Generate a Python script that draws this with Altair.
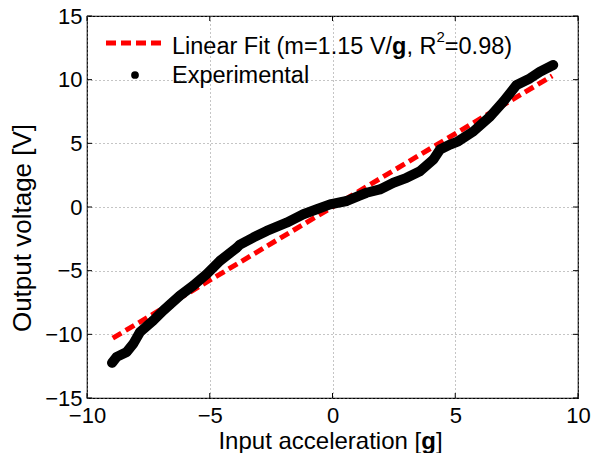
import altair as alt
import pandas as pd

# ---------------- data ----------------
exp_x = [-8.98, -8.79, -8.38, -8.11, -7.84, -7.30, -6.89, -6.62, -6.21, -5.67,
         -5.12, -4.58, -3.90, -3.77, -3.23, -2.68, -1.87, -1.19, -0.64, -0.10,
         0.58, 1.05, 1.39, 1.93, 2.48, 3.02, 3.56, 4.11, 4.38, 4.79,
         5.12, 5.74, 6.42, 6.96, 7.50, 8.04, 8.45, 8.99]
exp_y = [-12.24, -11.77, -11.38, -10.73, -9.82, -8.91, -8.13, -7.66, -6.95, -6.17,
         -5.26, -4.22, -3.20, -2.95, -2.40, -1.88, -1.23, -0.57, -0.18, 0.21,
         0.47, 0.86, 1.12, 1.38, 1.90, 2.29, 2.81, 3.73, 4.51, 4.90,
         5.16, 5.94, 7.11, 8.28, 9.59, 10.10, 10.62, 11.15]
fit_x = [-8.95, 8.95]
fit_y = [-10.3, 10.3]
x_ticks = [-10, -5, 0, 5, 10]
y_ticks = [-15, -10, -5, 0, 5, 10, 15]

legend_fit = ["Linear Fit (m=1.15 V/", "g", ", R", "2", "=0.98)"]
legend_exp = "Experimental"
x_title = ["Input acceleration [", "g", "]"]
y_title = "Output voltage [V]"

FONT = "Liberation Sans"
FS = 23.5
W, H = 491, 382

# Arial/Helvetica advance widths (em) for layout of multi-style text
CW = {'L': .556, 'i': .222, 'n': .556, 'e': .556, 'a': .556, 'r': .333, ' ': .278,
      'F': .611, 't': .278, '(': .333, 'm': .833, '=': .584, '1': .556, '.': .278,
      '5': .556, 'V': .667, '/': .278, ',': .278, 'R': .722, '0': .556, '9': .556,
      '8': .556, ')': .333, 'I': .278, 'p': .556, 'u': .556, 'c': .5, 'l': .222,
      'o': .556, '[': .278, ']': .278, '2': .556, 'g': .611}


def tw(s, size):
    return sum(CW.get(ch, .556) for ch in s) * size


exp_df = pd.DataFrame({"x": exp_x, "y": exp_y})
fit_df = pd.DataFrame({"x": fit_x, "y": fit_y})

xs = alt.Scale(domain=[-10, 10], nice=False, zero=False)
ys = alt.Scale(domain=[-15, 15], nice=False, zero=False)

base_axis = dict(grid=True, gridDash=[1, 3], gridColor="#8a8a8a", gridWidth=1,
                 ticks=False, domain=False, labelFont=FONT, labelFontSize=22,
                 labelColor="black", title=None, labelFlush=False,
                 labelOverlap=False, labelBound=False)

fit_line = alt.Chart(fit_df).mark_line(
    color="#ff0000", strokeWidth=5, strokeDash=[10, 5]
).encode(
    x=alt.X("x:Q", scale=xs, axis=alt.Axis(values=x_ticks, labelPadding=7, **base_axis)),
    y=alt.Y("y:Q", scale=ys, axis=alt.Axis(values=y_ticks, labelPadding=5, **base_axis)),
)

exp_line = alt.Chart(exp_df).mark_line(
    color="black", strokeWidth=10, strokeCap="round", strokeJoin="round"
).encode(x=alt.X("x:Q", scale=xs), y=alt.Y("y:Q", scale=ys))

exp_pts = alt.Chart(exp_df).mark_circle(color="black", opacity=1, size=80).encode(
    x=alt.X("x:Q", scale=xs), y=alt.Y("y:Q", scale=ys))

# inward tick marks (MATLAB style)
xt_df = pd.DataFrame({"v": x_ticks})
yt_df = pd.DataFrame({"v": y_ticks})
xt_bot = alt.Chart(xt_df).mark_rule(color="black", strokeWidth=1).encode(
    x=alt.X("v:Q", scale=xs), y=alt.value(H), y2=alt.value(H - 5))
xt_top = alt.Chart(xt_df).mark_rule(color="black", strokeWidth=1).encode(
    x=alt.X("v:Q", scale=xs), y=alt.value(0), y2=alt.value(5))
yt_left = alt.Chart(yt_df).mark_rule(color="black", strokeWidth=1).encode(
    y=alt.Y("v:Q", scale=ys), x=alt.value(0), x2=alt.value(5))
yt_right = alt.Chart(yt_df).mark_rule(color="black", strokeWidth=1).encode(
    y=alt.Y("v:Q", scale=ys), x=alt.value(W), x2=alt.value(W - 5))


def txt(s, x, y, size=FS, weight="normal", align="left", angle=0, baseline="alphabetic"):
    return alt.Chart(pd.DataFrame({"t": [s]})).mark_text(
        font=FONT, fontSize=size, fontWeight=weight, color="black",
        align=align, baseline=baseline, angle=angle
    ).encode(x=alt.value(x), y=alt.value(y), text="t:N")


layers = [fit_line, exp_line, exp_pts, xt_bot, xt_top, yt_left, yt_right]

# legend
leg_sample = alt.Chart(pd.DataFrame({"a": [0]})).mark_rule(
    color="#ff0000", strokeWidth=5, strokeDash=[10, 5]
).encode(x=alt.value(19), x2=alt.value(75), y=alt.value(27))
leg_dot = alt.Chart(pd.DataFrame({"a": [0]})).mark_circle(
    color="black", opacity=1, size=60
).encode(x=alt.value(48), y=alt.value(59))
layers += [leg_sample, leg_dot]

lx = 85
styles = [("normal", FS, 38), ("bold", FS, 38), ("normal", FS, 38), ("normal", 15, 26), ("normal", FS, 38)]
for s, (wgt, sz, by) in zip(legend_fit, styles):
    layers.append(txt(s, lx, by, size=sz, weight=wgt))
    lx += tw(s, sz)
layers.append(txt(legend_exp, 85, 67))

# x title (with bold g)
XFS = 24
total = sum(tw(s, XFS) for s in x_title)
tx = W / 2 - 2 - total / 2
for s, wgt in zip(x_title, ["normal", "bold", "normal"]):
    layers.append(txt(s, tx, H + 51, size=XFS, weight=wgt))
    tx += tw(s, XFS)

# y title
layers.append(txt(y_title, -64, 212, size=26, angle=270, align="center", baseline="middle"))

chart = alt.layer(*layers).properties(
    width=W, height=H,
    autosize=alt.AutoSizeParams(type="none"),
    padding={"left": 79, "top": 8, "right": 15, "bottom": 55},
).configure_view(stroke="black", strokeWidth=1.2)

chart.save("out.html", embed_options={"renderer": "svg", "actions": False})
